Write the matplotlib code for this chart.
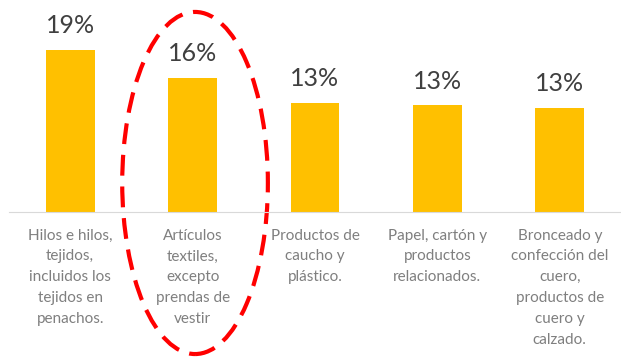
import matplotlib.pyplot as plt
from matplotlib.patches import Ellipse

plt.rcParams['font.family'] = ['Lato', 'DejaVu Sans']

categories = [
    'Hilos e hilos,\ntejidos,\nincluidos los\ntejidos en\npenachos.',
    'Artículos\ntextiles,\nexcepto\nprendas de\nvestir',
    'Productos de\ncaucho y\nplástico.',
    'Papel, cartón y\nproductos\nrelacionados.',
    'Bronceado y\nconfección del\ncuero,\nproductos de\ncuero y\ncalzado.',
]
values = [19.0, 15.7, 12.8, 12.5, 12.2]
value_labels = ['19%', '16%', '13%', '13%', '13%']

fig = plt.figure(figsize=(6.21, 3.58), dpi=100)
ax = fig.add_axes([9 / 621, 146 / 358, 612 / 621, 212 / 358])

x = range(len(values))
bars = ax.bar(x, values, width=0.4, color='#FFC000')

for xi, v, lab in zip(x, values, value_labels):
    ax.annotate(lab, xy=(xi, v), xytext=(0, 12), textcoords='offset points',
                ha='center', va='baseline', fontsize=18, color='#404040')

for xi, cat in zip(x, categories):
    ax.annotate(cat, xy=(xi, 0), xytext=(0, -12), textcoords='offset points',
                ha='center', va='top', fontsize=11, color='#7f7f7f',
                linespacing=1.62)

ax.set_xlim(-0.5, 4.5)
ax.set_ylim(0, 24.85)
for s in ['top', 'right', 'left']:
    ax.spines[s].set_visible(False)
ax.spines['bottom'].set_color('#d9d9d9')
ax.set_xticks([])
ax.set_yticks([])

# highlight second category
ell = Ellipse((1.02, 3.4), width=1.19, height=40.1, fill=False,
              edgecolor='#ff0000', linewidth=3, linestyle=(0, (5, 2.6)),
              clip_on=False)
ax.add_patch(ell)

fig.savefig('out.png', dpi=100)
